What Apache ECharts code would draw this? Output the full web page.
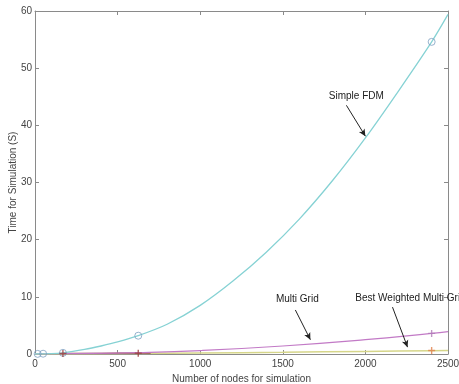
<!DOCTYPE html>
<html><head><meta charset="utf-8">
<script src="https://cdn.jsdelivr.net/npm/echarts@6/dist/echarts.min.js"></script>
<style>html,body{margin:0;padding:0;background:#fff}#c{width:459px;height:384px}</style>
</head><body><div id="c"></div>
<script>
// ---- data ----
var xTicks = [0, 500, 1000, 1500, 2000, 2500];
var yTicks = [0, 10, 20, 30, 40, 50, 60];

// Simple FDM fitted curve
var fdmCurveX = [0, 100, 169, 300, 400, 500, 625, 800, 1000, 1200, 1400, 1600, 1800, 2000, 2200, 2401, 2500];
var fdmCurveY = [0, 0.05, 0.2, 0.8, 1.4, 2.1, 3.2, 5.2, 8.5, 12.8, 17.8, 23.6, 30.3, 37.8, 46.0, 54.6, 59.4];
// Simple FDM measured points
var fdmPtsX = [16, 49, 169, 625, 2401];
var fdmPtsY = [0.02, 0.05, 0.2, 3.2, 54.6];

// Multi Grid fitted curve
var mgCurveX = [0, 169, 625, 1000, 1500, 2000, 2401, 2500];
var mgCurveY = [0, 0.05, 0.25, 0.6, 1.4, 2.5, 3.6, 3.9];
// Multi Grid measured points
var mgPtsX = [169, 625, 2401];
var mgPtsY = [0.1, 0.15, 3.6];
// low-range data segment (dark red)
var lowSegX = [169, 400, 625, 700];
var lowSegY = [0.1, 0.12, 0.15, 0.15];

// Best Weighted Multi Grid fitted curve
var bwCurveX = [0, 625, 1000, 1500, 2000, 2401, 2500];
var bwCurveY = [0, 0.1, 0.18, 0.3, 0.45, 0.57, 0.6];
var bwPtsX = [2401];
var bwPtsY = [0.6];

// annotations (data coordinates)
var annText = ['Simple FDM', 'Multi Grid', 'Best Weighted Multi Grid'];
var annTextX = [1945, 1588, 1939];
var annTextY = [45.1, 9.5, 9.8];
var annAlign = ['center', 'center', 'left'];
var arrFromX = [1885, 1576, 2164];
var arrFromY = [43.5, 7.7, 8.2];
var arrToX = [2000, 1667, 2255];
var arrToY = [38.1, 2.5, 1.2];

function zip(a, b) { return a.map(function (v, i) { return [v, b[i]]; }); }

var FONT = 'Liberation Sans, Arial, sans-serif';
var AX = '#8a8a8a';
var TXT = '#444';
var CROSS = 'path://M4,0h2v4h4v2h-4v4h-2v-4h-4v-2h4z';

var chart = echarts.init(document.getElementById('c'), null, {renderer: 'canvas'});
var option = {
  animation: false,
  grid: {left: 35, right: 11, top: 11, bottom: 30, containLabel: false, outerBoundsMode: 'none'},
  xAxis: [{
    type: 'value', min: xTicks[0], max: xTicks[xTicks.length - 1], interval: 500,
    name: 'Number of nodes for simulation', nameLocation: 'middle', nameGap: 15,
    nameTextStyle: {fontFamily: FONT, fontSize: 10, color: TXT},
    axisLine: {lineStyle: {color: AX, width: 1}},
    axisTick: {inside: true, length: 4, lineStyle: {color: AX}},
    axisLabel: {fontFamily: FONT, fontSize: 10, color: TXT, margin: 5, formatter: function (v) { return String(v); }},
    splitLine: {show: false}
  }, {
    type: 'value', position: 'top', min: 0, max: 2500, interval: 500,
    axisLine: {onZero: false, lineStyle: {color: AX, width: 1}},
    axisTick: {inside: true, length: 4, lineStyle: {color: AX}},
    axisLabel: {show: false}, splitLine: {show: false}
  }],
  yAxis: [{
    type: 'value', min: yTicks[0], max: yTicks[yTicks.length - 1], interval: 10,
    name: 'Time for Simulation (S)', nameLocation: 'middle', nameGap: 17, nameMoveOverlap: false,
    nameTextStyle: {fontFamily: FONT, fontSize: 10, color: TXT},
    axisLine: {show: true, lineStyle: {color: AX, width: 1}},
    axisTick: {show: true, inside: true, length: 4, lineStyle: {color: AX}},
    axisLabel: {fontFamily: FONT, fontSize: 10, color: TXT, margin: 3},
    splitLine: {show: false}
  }, {
    type: 'value', position: 'right', min: 0, max: 60, interval: 10,
    axisLine: {show: true, onZero: false, lineStyle: {color: AX, width: 1}},
    axisTick: {show: true, inside: true, length: 4, lineStyle: {color: AX}},
    axisLabel: {show: false}, splitLine: {show: false}
  }],
  series: [
    {name: 'Best Weighted curve', type: 'line', data: zip(bwCurveX, bwCurveY), smooth: true,
     showSymbol: false, lineStyle: {color: '#d6d68a', width: 1.5}, z: 2},
    {name: 'Low segment', type: 'line', data: zip(lowSegX, lowSegY), smooth: true,
     showSymbol: false, lineStyle: {color: '#9a4a4a', width: 1.2}, z: 3},
    {name: 'Multi Grid curve', type: 'line', data: zip(mgCurveX, mgCurveY), smooth: true,
     showSymbol: false, lineStyle: {color: '#c27ac6', width: 1.2}, z: 3},
    {name: 'Simple FDM curve', type: 'line', data: zip(fdmCurveX, fdmCurveY), smooth: 0.3,
     showSymbol: false, lineStyle: {color: '#86d2d4', width: 1.3}, z: 3},
    {name: 'Simple FDM points', type: 'scatter', data: zip(fdmPtsX, fdmPtsY), symbol: 'circle', symbolSize: 7,
     itemStyle: {color: 'rgba(255,255,255,0)', borderColor: '#7d9fc0', borderWidth: 1}, z: 5},
    {name: 'Multi Grid points', type: 'scatter', data: zip(mgPtsX, mgPtsY), symbol: CROSS, symbolSize: 7,
     itemStyle: {color: function (p) { return p.dataIndex < 2 ? '#9a3a3a' : '#b07ab8'; }}, z: 5},
    {name: 'Best Weighted points', type: 'scatter', data: zip(bwPtsX, bwPtsY), symbol: CROSS, symbolSize: 7,
     itemStyle: {color: '#e0804a'}, z: 5},
    {name: 'Annotations', type: 'line', data: [], silent: true,
     markLine: {
       silent: true, symbol: ['none', 'arrow'], symbolSize: [5, 7], animation: false,
       lineStyle: {color: '#222', width: 1, type: 'solid'}, label: {show: false},
       data: arrFromX.map(function (x, i) {
         return [{coord: [x, arrFromY[i]]}, {coord: [arrToX[i], arrToY[i]]}];
       })
     },
     markPoint: {
       silent: true, symbol: 'circle', symbolSize: 0,
       data: annText.map(function (t, i) {
         return {coord: [annTextX[i], annTextY[i]], value: t,
                 label: {show: true, formatter: t, position: 'inside', align: annAlign[i],
                         fontFamily: FONT, fontSize: 10, color: '#222'}};
       })
     }}
  ]
};
chart.setOption(option);
</script>
</body></html>
